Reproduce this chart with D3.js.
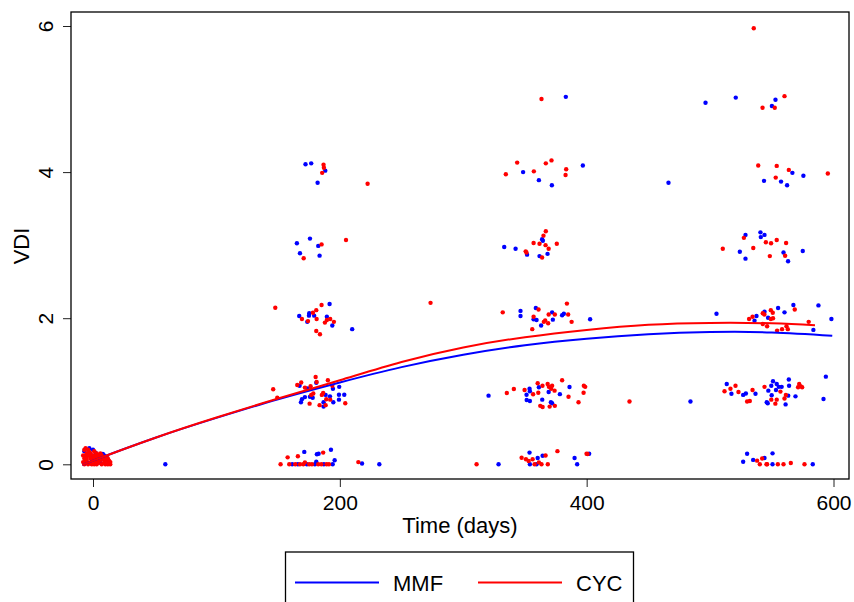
<!DOCTYPE html>
<html>
<head>
<meta charset="utf-8">
<title>VDI over time</title>
<script src="https://cdn.jsdelivr.net/npm/d3@7"></script>
<style>
  body { margin: 0; background: #fff; }
  svg { display: block; font-family: "Liberation Sans", Arial, Helvetica, sans-serif; }
</style>
</head>
<body>
<div id="chart"></div>
<script>
// ticks
var xTicks = [0, 200, 400, 600];
var yTicks = [0, 2, 4, 6];

// fitted curves [day, VDI]
var mmfCurve = [[-7,0],[0,0.05],[50,0.36],[100,0.635],[150,0.89],[200,1.12],[250,1.33],[300,1.5],[350,1.63],[400,1.72],[450,1.78],[500,1.81],[550,1.805],[599,1.76]];
var cycCurve = [[-7,0],[0,0.05],[50,0.36],[100,0.64],[150,0.9],[200,1.15],[250,1.4],[300,1.6],[350,1.74],[400,1.84],[450,1.91],[500,1.935],[550,1.93],[585,1.905]];

// observations [day, VDI] (jittered, as in the plot)
var mmfPoints = [
  [-3,0.22],[-1,0.1],[2,0.16],[5,0.12],[8,0.14],[11,0.1],[12,0.05],[-5,0.02],[3,0.06],[6,0.02],[9,0.12],[-7,0.18],[0,0.2],[7,0.08],
  [58.6,0],
  [161.4,0],[166,0],[173.3,0],[179.8,0],[187.1,0],[194.2,0],[171.2,0.17],[181.4,0.137],[182.8,0.145],[180.9,0.036],[192.8,0.2],[195.8,0.055],[218,0.01],[232,0],
  [167.4,1.076],[173.6,1.04],[175.8,0.925],[171.7,0.92],[169.3,0.89],[168.5,0.85],[178,0.91],[180.9,1.117],[188.5,0.95],[192,0.93],[194.7,0.85],[194.4,1.035],[199.5,1.06],[199.3,0.953],[203.6,0.953],[199.3,0.885],[186.8,0.85],[186.8,0.79],
  [191.7,2.195],[175.2,2.067],[175,2.035],[167.1,2.03],[179.2,2.035],[173.6,1.95],[189.5,2.02],[193.9,1.9],[210,1.85],
  [165.2,3.025],[175.8,3.09],[182.5,2.99],[167.7,2.89],[183.6,2.856],
  [172.2,4.107],[176.8,4.12],[188.2,4.02],[182,3.855],
  [383.1,5.03],
  [348.5,4.0],[361.3,3.89],[371.8,3.82],[396.9,4.09],
  [363.9,3.08],[364.5,3.06],[333.2,2.975],[342.4,2.95],[351.7,2.87],[361.8,2.85],[368.3,2.88],
  [346.4,2.1],[346.4,2.03],[358.8,2.14],[357,1.985],[359.4,1.975],[363.1,1.9],[372,2.08],[372.6,1.98],[380.1,2.04],[381.5,2.06],[402.8,1.985],
  [320.5,0.94],[351.3,0.953],[353.7,1.035],[354,1.0],[351.4,0.88],[354,0.867],[361.3,1.054],[369.2,0.99],[378.3,0.96],[386.1,1.058],[364,0.885],[372,0.835],[371,0.85],
  [328.6,0],[353.7,0.16],[354,0],[359.4,0],[360.3,0.086],[364.3,0.118],[390.2,0.086],[392.3,0],[402,0.145],
  [466.3,3.855],[484.1,0.86],[496.3,4.95],[520.8,5.02],
  [550.1,4.905],[553,4.99],
  [543.7,3.88],[557.5,3.87],[562.4,3.82],[566.7,3.99],[575.6,3.95],
  [524.1,2.91],[528.7,2.815],[528.7,3.14],[540.8,3.175],[541.1,3.11],[544.1,3.14],[559.5,2.9],[563.2,2.78],[575.1,2.92],
  [505.2,2.06],[536,1.965],[537.6,2.03],[544.1,2.09],[547,2.007],[555.1,2.14],[560.3,2.08],[567.5,2.18],[587.8,2.175],[598.3,1.99],[583.7,1.84],
  [513.5,1.1],[517.3,0.966],[526.8,0.95],[529,0.97],[536.8,0.966],[545.9,0.85],[546.7,0.835],[547.2,1.008],[549.6,1.076],[551,1.136],[549.9,0.945],[553.4,1.017],[554,1.1],[555.7,1.06],[558,1.06],[561.2,0.82],[563.8,1.16],[563.3,0.94],[564,1.076],[569.2,0.93],[591.9,0.894],[593.8,1.2],
  [526.8,0.035],[530,0.145],[534.9,0.06],[544.1,0.086],[550.6,0],[550.6,0.15],[583.2,0]
];

var cycPoints = [
  [-7,0],[-6,0.05],[-5,0.1],[-5,0.15],[-4,0.2],[-3,0.02],[-2,0.08],[-1,0],[0,0.12],[1,0.18],[2,0.03],[3,0],[4,0.1],[5,0.05],[6,0.15],[7,0],[8,0.08],[9,0.02],[10,0],[11,0.05],[12,0],[-6,0.12],[-4,0],[-2,0.15],[0,0.05],[2,0.12],[4,0.02],[6,0.06],[8,0.1],[10,0.06],[13,0.02],[-7,0.08],[1,0.09],
  [-8,0.03],[-8,0.12],[-7,0.2],[-6,0.22],[-3,0.12],[-1,0.05],[1,0],[3,0.15],[5,0.12],[7,0.12],[9,0.1],[11,0.1],[12,0.08],[13,0.05],[14,0],[14,0.03],[-3,0.17],[3,0.07],[9,0.06],[-5,0.06],
  [152,0],[157.7,0.095],[159,0],[163.9,0],[166,0.11],[167.7,0],[170.4,0],[171.7,0.027],[175.2,0],[177.4,0],[182.5,0],[185,0],[186.5,0.16],[189.3,0],[191.2,0],[215,0.03],
  [180.4,1.195],[146,1.027],[149.3,0.91],[165.5,1.085],[168.7,1.12],[171.7,1.05],[176.3,1.07],[178.5,0.97],[176.8,0.95],[175.5,0.83],[181.2,1.127],[190.3,1.15],[185.4,0.95],[186.5,0.976],[189,0.89],[192.2,0.885],[193.9,1.076],[204.4,0.835],[183.6,0.81],[188.5,0.81],
  [147.7,2.144],[185.2,2.18],[180.9,2.11],[178.2,2.075],[169.3,1.99],[174.2,1.96],[181.2,1.99],[192.2,1.99],[189.5,1.975],[187.9,1.94],[195.2,1.95],[180.9,1.825],[183.9,1.78],
  [185.2,3.01],[170.7,2.82],[205,3.07],
  [186.8,4.1],[187.1,4.06],[185.7,3.99],[222.5,3.84],
  [273.5,2.21],[310.8,0],[434.7,0.86],
  [363.4,5.0],
  [334.5,3.97],[343.7,4.13],[357.2,4.01],[366.9,4.12],[371.5,4.16],[383.4,4.04],[382.9,3.96],
  [366.9,3.19],[365,3.13],[357,3.03],[361.8,3.02],[366.7,3.0],[369.2,2.95],[375.8,3.02],[350.6,2.915],[351.2,2.9],[363.9,2.83],
  [332,2.08],[361,2.12],[357,2.02],[355.9,1.85],[365.3,1.95],[368.8,1.93],[366.4,1.97],[369.2,2.05],[374.2,2.05],[384,2.2],[385,2.05],[387.8,1.95],
  [335.3,0.976],[341,1.03],[349.7,1.017],[356.6,0.958],[360.3,1.11],[360.8,0.98],[364.2,1.076],[368.4,1.1],[369.4,1.06],[372,1.076],[374,1.008],[371.2,1.035],[380.1,1.15],[385.3,0.925],[397.7,1.076],[398.8,1.06],[397.5,0.98],[393.4,0.85],[362.4,0.8],[364.3,0.785],[370,0.79],[374.2,0.8],
  [347.3,0.09],[350.8,0.07],[353,0.045],[356.2,0.07],[361.3,0.027],[363.4,0],[366.7,0.12],[368.5,0],[357.8,0],[376.3,0.18],[399.9,0.145],[400.7,0.14],
  [535.4,5.97],
  [542.5,4.88],[552.4,4.88],[560.3,5.04],
  [539,4.09],[554,4.085],[553.2,3.925],[563.8,4.03],[595.4,3.98],
  [510.3,2.95],[527.4,3.1],[535,2.96],[545.2,3.04],[549.4,3.025],[554,3.07],[548.4,2.85],[561.6,3.03],[560.8,2.855],
  [531.6,1.99],[534.4,2.02],[542.7,2.067],[544,2.05],[549.2,2.11],[550.8,2.075],[549.2,1.99],[551,2.0],[568.6,2.12],[542.7,1.92],[546.2,1.89],[554.3,1.83],[558.3,1.85],[561.9,1.89],[563,1.85],[579.9,1.95],
  [511.7,1.0],[516.5,1.035],[520.6,1.076],[523,0.99],[530,0.86],[532.2,0.866],[534.4,1.017],[544.1,1.06],[549.6,0.885],[552.9,0.83],[554,0.885],[557,0.995],[560.3,0.9],[561.4,0.95],[571.3,1.054],[572.2,1.1],[573.3,1.068],[574.6,1.054],
  [538.1,0.05],[542.2,0.08],[540.3,0],[545.7,0],[546.2,0],[554.9,0],[559.5,0],[576.5,0],[565.4,0.018]
];

var seriesNames = ["MMF", "CYC"];
var seriesColors = ["#0000ff", "#ff0000"];

var W = 854, H = 602;
var box = {left: 71, right: 849, top: 12, bottom: 479};

var svg = d3.select("#chart").append("svg").attr("width", W).attr("height", H);

var x = d3.scaleLinear().domain([0, 600]).range([93, 833.5]);
var y = d3.scaleLinear().domain([0, 6]).range([464.3, 26]);

// axes
var xAxis = svg.append("g").attr("transform", "translate(0," + box.bottom + ")")
  .call(d3.axisBottom(x).tickValues(xTicks).tickFormat(d3.format("d")).tickSize(8).tickSizeOuter(0));
xAxis.select(".domain").remove();
xAxis.selectAll("line").attr("stroke", "#222");
xAxis.selectAll("text").attr("y", 31).attr("dy", 0)
  .style("font-size", "21px").attr("fill", "#000");

var yAxis = svg.append("g").attr("transform", "translate(" + box.left + ",0)")
  .call(d3.axisLeft(y).tickValues(yTicks).tickFormat(d3.format("d")).tickSize(8).tickSizeOuter(0));
yAxis.select(".domain").remove();
yAxis.selectAll("line").attr("stroke", "#222");
yAxis.selectAll("text")
  .attr("x", 0).attr("dy", 0)
  .attr("transform", "translate(-18,0) rotate(-90)")
  .attr("text-anchor", "middle")
  .style("font-size", "21px").attr("fill", "#000");

// points
svg.append("g").selectAll("circle").data(mmfPoints).enter().append("circle")
  .attr("cx", function(d){ return x(d[0]); })
  .attr("cy", function(d){ return y(d[1]); })
  .attr("r", 2.2)
  .attr("fill", seriesColors[0]);

svg.append("g").selectAll("circle").data(cycPoints).enter().append("circle")
  .attr("cx", function(d){ return x(d[0]); })
  .attr("cy", function(d){ return y(d[1]); })
  .attr("r", 2.2)
  .attr("fill", seriesColors[1]);

// curves
var line = d3.line()
  .x(function(d){ return x(d[0]); })
  .y(function(d){ return y(d[1]); })
  .curve(d3.curveNatural);

[mmfCurve, cycCurve].forEach(function(c, i){
  svg.append("path").datum(c)
    .attr("d", line)
    .attr("fill", "none")
    .attr("stroke", seriesColors[i])
    .attr("stroke-width", 2);
});

// box
svg.append("rect")
  .attr("x", box.left).attr("y", box.top)
  .attr("width", box.right - box.left).attr("height", box.bottom - box.top)
  .attr("fill", "none").attr("stroke", "#000").attr("stroke-width", 1.3);

// axis titles
svg.append("text")
  .attr("x", 460).attr("y", 533)
  .attr("text-anchor", "middle")
  .style("font-size", "22px")
  .text("Time (days)");

svg.append("text")
  .attr("transform", "translate(28.5,246) rotate(-90)")
  .attr("text-anchor", "middle")
  .style("font-size", "22px")
  .text("VDI");

// legend (cut off at bottom like the original)
var legend = svg.append("g");
legend.append("rect")
  .attr("x", 285.5).attr("y", 552)
  .attr("width", 348).attr("height", 80)
  .attr("fill", "#fff").attr("stroke", "#000").attr("stroke-width", 1.3);

var legendX = [295, 478];
seriesNames.forEach(function(name, i){
  legend.append("line")
    .attr("x1", legendX[i]).attr("x2", legendX[i] + 84)
    .attr("y1", 582.5).attr("y2", 582.5)
    .attr("stroke", seriesColors[i]).attr("stroke-width", 2);
  legend.append("text")
    .attr("x", legendX[i] + 98).attr("y", 591)
    .style("font-size", "22px")
    .text(name);
});
</script>
</body>
</html>
